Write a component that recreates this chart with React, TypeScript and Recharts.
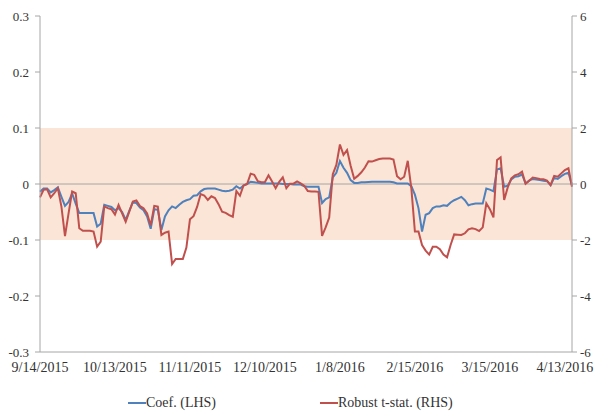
import React from 'react';
import { LineChart, Line, XAxis, YAxis, ReferenceArea, ReferenceLine } from 'recharts';

// tick labels shown every 21 trading days
const dateLabels = ['9/14/2015', '10/13/2015', '11/11/2015', '12/10/2015', '1/8/2016', '2/15/2016', '3/15/2016', '4/13/2016'];
const labelStep = 21;

const coef = [
  -0.014, -0.008, -0.008, -0.015, -0.011, -0.006, -0.023, -0.039, -0.032, -0.017,
  -0.035, -0.052, -0.052, -0.052, -0.052, -0.052, -0.076, -0.071, -0.037, -0.039,
  -0.041, -0.047, -0.043, -0.050, -0.064, -0.048, -0.033, -0.034, -0.042, -0.047,
  -0.058, -0.080, -0.045, -0.046, -0.082, -0.058, -0.047, -0.040, -0.043, -0.037,
  -0.032, -0.029, -0.027, -0.021, -0.020, -0.013, -0.009, -0.008, -0.008, -0.008,
  -0.010, -0.012, -0.013, -0.012, -0.010, -0.004, -0.008, -0.003, 0.000, 0.004,
  0.003, 0.002, 0.001, 0.001, 0.001, 0.001, 0.001, 0.001, 0.000, 0.000,
  0.000, -0.001, -0.001, -0.001, -0.004, -0.005, -0.005, -0.005, -0.005, -0.034,
  -0.027, -0.024, 0.012, 0.020, 0.041, 0.029, 0.020, 0.007, 0.002, 0.002,
  0.003, 0.003, 0.0035, 0.004, 0.004, 0.004, 0.004, 0.004, 0.004, 0.003,
  0.001, 0.001, 0.001, 0.001, -0.004, -0.019, -0.043, -0.085, -0.055, -0.052,
  -0.043, -0.040, -0.040, -0.038, -0.039, -0.033, -0.029, -0.026, -0.023, -0.029,
  -0.038, -0.036, -0.035, -0.035, -0.035, -0.008, -0.010, -0.013, 0.026, 0.028,
  -0.005, -0.003, 0.008, 0.013, 0.014, 0.017, 0.001, 0.006, 0.009, 0.008,
  0.007, 0.006, 0.005, -0.002, 0.011, 0.009, 0.014, 0.018, 0.020, -0.002,
];

const tStat = [
  -0.48, -0.21, -0.19, -0.48, -0.33, -0.15, -0.81, -1.86, -1.05, -0.27,
  -0.33, -1.58, -1.67, -1.67, -1.67, -1.70, -2.24, -2.06, -0.80, -0.86,
  -0.90, -1.09, -0.75, -1.05, -1.35, -0.99, -0.63, -0.59, -0.79, -0.87,
  -1.05, -1.48, -0.78, -0.81, -1.82, -1.74, -1.70, -2.86, -2.68, -2.68,
  -2.68, -2.27, -1.26, -1.15, -0.82, -0.36, -0.41, -0.57, -0.44, -0.50,
  -0.72, -0.99, -1.03, -1.11, -1.17, -0.25, -0.42, -0.05, 0.00, 0.37,
  0.33, 0.10, 0.06, 0.07, 0.31, 0.09, -0.15, 0.08, 0.24, -0.15,
  0.01, 0.01, 0.09, 0.02, -0.06, -0.25, -0.27, -0.27, -0.28, -1.85,
  -1.55, -1.20, 0.35, 0.68, 1.41, 1.04, 1.21, 0.65, 0.19, 0.29,
  0.42, 0.59, 0.81, 0.80, 0.85, 0.89, 0.91, 0.91, 0.91, 0.87,
  0.28, 0.17, 0.26, 0.83, -0.15, -1.70, -1.70, -2.18, -2.38, -2.52,
  -2.24, -2.24, -2.33, -2.52, -2.62, -2.18, -1.80, -1.81, -1.82, -1.76,
  -1.62, -1.58, -1.61, -1.68, -1.55, -0.69, -0.90, -1.19, 0.86, 0.95,
  -0.57, -0.12, 0.20, 0.31, 0.35, 0.44, 0.01, 0.12, 0.23, 0.21,
  0.18, 0.17, 0.12, -0.04, 0.29, 0.26, 0.38, 0.50, 0.56, -0.10,
];

const leftTicks = [-0.3, -0.2, -0.1, 0, 0.1, 0.2, 0.3];
const rightTicks = [-6, -4, -2, 0, 2, 4, 6];
const band = [-0.1, 0.1];

const data = coef.map((c, i) => ({ i, coef: c, tstat: tStat[i] }));
const xTicks = dateLabels.map((_, k) => k * labelStep);

const font = 'Liberation Serif, DejaVu Serif, serif';
const tickStyle = { fontSize: 13, fill: '#333', fontFamily: font };

const App = () => {
  return (
    <div style={{ position: 'absolute', left: 0, top: 0, width: 597, height: 412, background: '#fff', fontFamily: font }}>
      <LineChart width={597} height={412} data={data} margin={{ top: 16, right: 0, bottom: 30, left: 0 }} style={{ fontFamily: font }}>
        <ReferenceArea yAxisId="left" y1={band[0]} y2={band[1]} fill="#FBE5D6" fillOpacity={1} stroke="none" />
        <ReferenceLine yAxisId="left" y={0} stroke="#A6A6A6" strokeWidth={1} />
        <XAxis
          dataKey="i"
          type="number"
          domain={[0, coef.length - 1]}
          ticks={xTicks}
          tickFormatter={(v: number) => dateLabels[v / labelStep]}
          interval={0}
          height={30}
          tickLine={false}
          axisLine={{ stroke: '#A6A6A6' }}
          tick={{ ...tickStyle, fontSize: 14 }}
          tickMargin={4}
        />
        <YAxis
          yAxisId="left"
          domain={[-0.3, 0.3]}
          ticks={leftTicks}
          tickFormatter={(v: number) => (v === 0 ? '0' : v.toFixed(1))}
          width={40}
          tickSize={5}
          tickMargin={6}
          tickLine={{ stroke: '#A6A6A6' }}
          axisLine={{ stroke: '#A6A6A6' }}
          tick={tickStyle}
        />
        <YAxis
          yAxisId="right"
          orientation="right"
          domain={[-6, 6]}
          ticks={rightTicks}
          width={25}
          tickSize={5}
          tickMargin={3}
          tickLine={{ stroke: '#A6A6A6' }}
          axisLine={{ stroke: '#A6A6A6' }}
          tick={tickStyle}
        />
        <Line yAxisId="left" type="linear" dataKey="coef" stroke="#4F81BD" strokeWidth={2} dot={false} isAnimationActive={false} />
        <Line yAxisId="right" type="linear" dataKey="tstat" stroke="#C0504D" strokeWidth={2} dot={false} isAnimationActive={false} />
      </LineChart>
      <div style={{ position: 'absolute', top: 394, left: 0, width: 597, fontSize: 14, color: '#333', lineHeight: '18px' }}>
        <div style={{ position: 'absolute', left: 128, display: 'flex', alignItems: 'center' }}>
          <span style={{ display: 'inline-block', width: 18, height: 2, background: '#4F81BD' }} />
          <span>Coef. (LHS)</span>
        </div>
        <div style={{ position: 'absolute', left: 320, display: 'flex', alignItems: 'center' }}>
          <span style={{ display: 'inline-block', width: 18, height: 2, background: '#C0504D' }} />
          <span>Robust t-stat. (RHS)</span>
        </div>
      </div>
    </div>
  );
};

export default App;
